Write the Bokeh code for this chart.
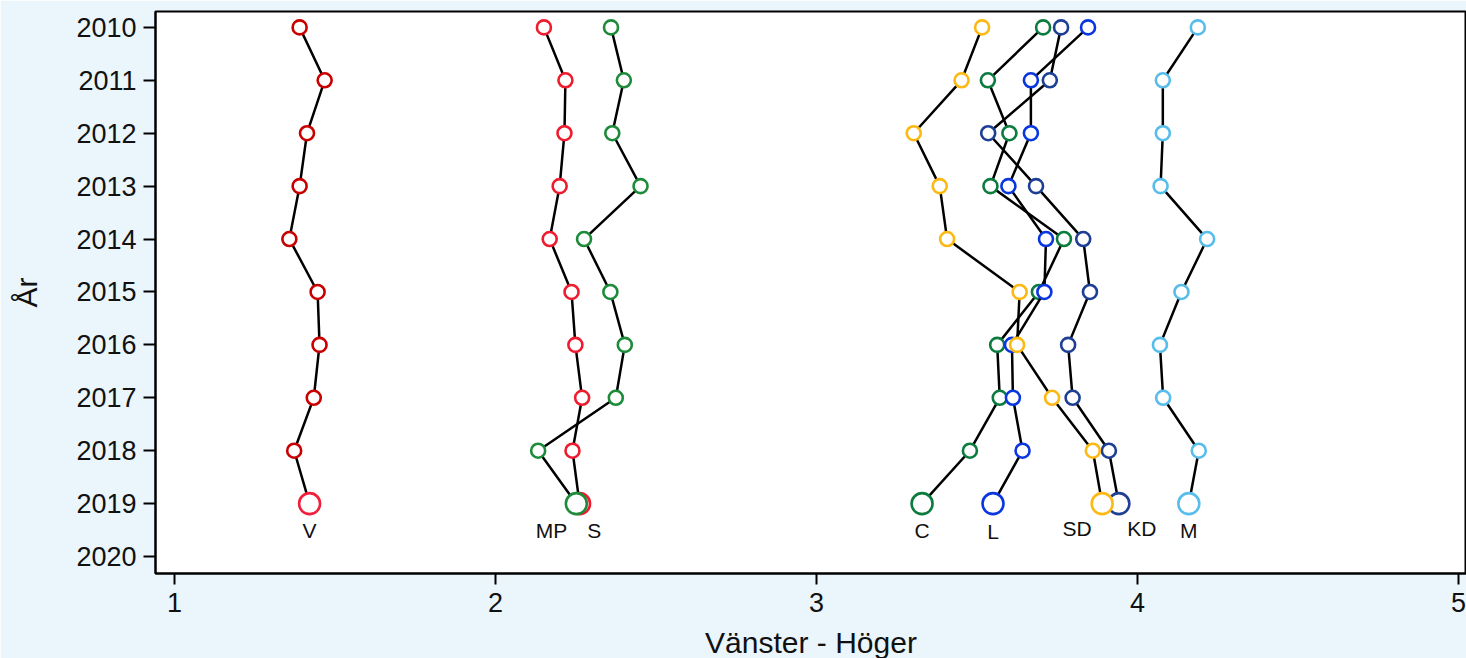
from bokeh.plotting import figure
from bokeh.models import Range1d, FixedTicker, ColumnDataSource
from bokeh.core.properties import value
from bokeh.embed import file_html
from bokeh.resources import INLINE

years = [2010, 2011, 2012, 2013, 2014, 2015, 2016, 2017, 2018, 2019]

v_vals  = [1.390, 1.468, 1.413, 1.390, 1.358, 1.446, 1.452, 1.434, 1.373, 1.421]
mp_vals = [2.151, 2.218, 2.215, 2.200, 2.169, 2.237, 2.249, 2.270, 2.240, 2.262]
s_vals  = [2.360, 2.400, 2.364, 2.452, 2.276, 2.358, 2.403, 2.375, 2.133, 2.252]
c_vals  = [3.706, 3.534, 3.601, 3.542, 3.771, 3.693, 3.563, 3.571, 3.478, 3.329]
l_vals  = [3.846, 3.668, 3.668, 3.598, 3.715, 3.710, 3.609, 3.612, 3.642, 3.550]
kd_vals = [3.762, 3.727, 3.535, 3.684, 3.831, 3.852, 3.784, 3.798, 3.911, 3.942]
sd_vals = [3.516, 3.452, 3.303, 3.384, 3.407, 3.633, 3.625, 3.734, 3.861, 3.890]
m_vals  = [4.188, 4.079, 4.079, 4.072, 4.217, 4.137, 4.070, 4.080, 4.191, 4.160]

parties = ["V", "MP", "S", "C", "L", "KD", "SD", "M"]
series = [v_vals, mp_vals, s_vals, c_vals, l_vals, kd_vals, sd_vals, m_vals]

x_ticks = [1, 2, 3, 4, 5]
y_ticks = [2010, 2011, 2012, 2013, 2014, 2015, 2016, 2017, 2018, 2019, 2020]

# styles
small_colors = ["#C80000", "#EE1C2E", "#1E8B3A", "#0B7B3E", "#0A36E0", "#1D3F94", "#FDB913", "#58BDEB"]
big_colors   = ["#F0203C", "#EE1C2E", "#1E8B3A", "#0B7B3E", "#0A36E0", "#1D3F94", "#FDB913", "#58BDEB"]
label_dx = {"V": 0, "MP": -28, "S": 18, "C": 0, "L": 0, "KD": 23, "SD": -25, "M": 0}
label_dy = {"V": 0, "MP": 0, "S": 0, "C": 0, "L": 1, "KD": -2, "SD": -2, "M": 0}

FONT = "Liberation Sans"
BG = "#EAF6FC"

p = figure(frame_width=1311, frame_height=562,
           x_range=Range1d(0.941, 5.025), y_range=Range1d(2020.32, 2009.70),
           output_backend="svg", toolbar_location=None,
           min_border_left=155, min_border_right=0, min_border_top=11, min_border_bottom=85)
p.border_fill_color = BG
p.background_fill_color = "white"
p.outline_line_color = "black"
p.outline_line_width = 2
p.xgrid.visible = False
p.ygrid.visible = False

for ax in (p.xaxis[0], p.yaxis[0]):
    ax.axis_line_color = "black"
    ax.axis_line_width = 2
    ax.major_tick_line_color = "black"
    ax.major_tick_line_width = 2
    ax.major_tick_in = 0
    ax.minor_tick_line_color = None
    ax.major_label_text_font = FONT
    ax.major_label_text_font_size = "27px"
    ax.major_label_text_color = "#111111"
    ax.axis_label_text_font = FONT
    ax.axis_label_text_font_size = "30px"
    ax.axis_label_text_font_style = "normal"
    ax.axis_label_text_color = "#111111"

p.xaxis.ticker = FixedTicker(ticks=x_ticks)
p.yaxis.ticker = FixedTicker(ticks=y_ticks)
p.xaxis.major_tick_out = 11
p.yaxis.major_tick_out = 12
p.xaxis.major_label_standoff = 8
p.yaxis.major_label_standoff = 7
p.xaxis.axis_label = "Vänster - Höger"
p.yaxis.axis_label = "År"
p.xaxis.axis_label_standoff = 11
p.yaxis.axis_label_standoff = 30

# connected lines and small markers
for name, vals, col in zip(parties, series, small_colors):
    src = ColumnDataSource(dict(x=vals, y=years))
    p.line("x", "y", source=src, line_color="black", line_width=2.5)
    src_s = ColumnDataSource(dict(x=vals[:-1], y=years[:-1]))
    p.scatter("x", "y", source=src_s, marker="circle", size=14,
              fill_color="white", line_color=col, line_width=2.6)

# big 2019 markers
for name, vals, col in zip(parties, series, big_colors):
    p.scatter(x=[vals[-1]], y=[years[-1]], marker="circle", size=21,
              fill_color="white", line_color=col, line_width=2.6)

# labels
lab_src = ColumnDataSource(dict(
    x=[vals[-1] for vals in series],
    y=[years[-1] + 0.5 for _ in series],
    text=parties,
    dx=[label_dx[n] for n in parties],
    dy=[label_dy[n] for n in parties],
))
p.text("x", "y", text="text", source=lab_src, x_offset="dx", y_offset="dy",
       text_align="center", text_baseline="middle",
       text_font=value(FONT), text_font_size="21px", text_color="#111111")

open("out.html", "w").write(file_html(p, INLINE))
